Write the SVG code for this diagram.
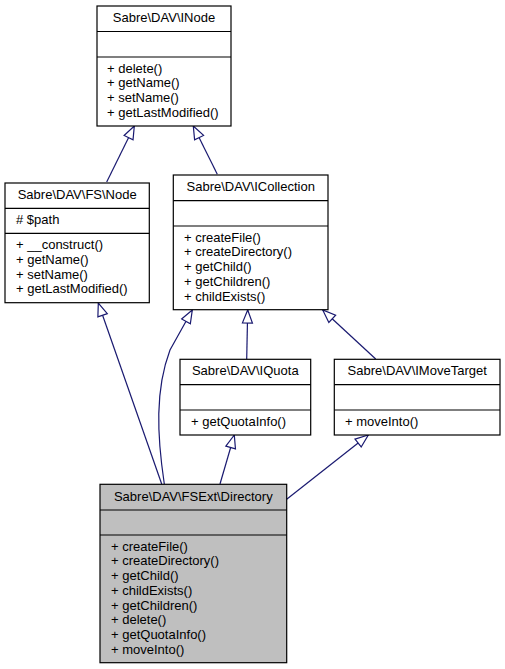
<svg xmlns="http://www.w3.org/2000/svg" width="505" height="669" viewBox="0 0 505 669">
<style>
.box{fill:#ffffff;stroke:#000000;stroke-width:1.2}
.cur{fill:#bfbfbf;stroke:#000000;stroke-width:1.2}
.sep{stroke:#000000;stroke-width:1.2}
text{font-family:"Liberation Sans",Arial,Helvetica,sans-serif;font-size:13px;fill:#000000}
.t{text-anchor:middle}
.e{fill:none;stroke:#191970;stroke-width:1.2;marker-end:url(#inh)}
</style>
<defs>
<marker id="inh" viewBox="-1 -7 16 14" markerWidth="16" markerHeight="14" refX="13" refY="0" orient="auto" markerUnits="userSpaceOnUse">
<path d="M0,-5 L13,0 L0,5 Z" fill="#ffffff" stroke="#191970" stroke-width="1.2"/>
</marker>
</defs>
<g id="edges">
<path class="e" d="M106.7,182 L134.3,126"/>
<path class="e" d="M217.3,174.3 L193.3,126"/>
<path class="e" d="M161.7,484 L98.3,303"/>
<path class="e" d="M164.3,484 C157,435 155,390 170,350 L192.3,310"/>
<path class="e" d="M246.7,359 L247.7,310"/>
<path class="e" d="M375.7,359 L322.7,310"/>
<path class="e" d="M220,484 L234.3,435"/>
<path class="e" d="M286.7,499.3 L368.3,435"/>
</g>
<g id="INode">
<rect class="box" x="97" y="6" width="134" height="120"/>
<line class="sep" x1="97" y1="31.5" x2="231" y2="31.5"/>
<line class="sep" x1="97" y1="57" x2="231" y2="57"/>
<text class="t" x="164" y="21.7">Sabre\DAV\INode</text>
<text x="107" y="72.6">+ delete()</text>
<text x="107" y="87.3">+ getName()</text>
<text x="107" y="102">+ setName()</text>
<text x="107" y="116.7">+ getLastModified()</text>
</g>
<g id="FSNode">
<rect class="box" x="5" y="183" width="144.3" height="119.7"/>
<line class="sep" x1="5" y1="208.3" x2="149.3" y2="208.3"/>
<line class="sep" x1="5" y1="233.3" x2="149.3" y2="233.3"/>
<text class="t" x="77.2" y="199">Sabre\DAV\FS\Node</text>
<text x="16" y="224">#  $path</text>
<text x="16" y="249.3">+  __construct()</text>
<text x="16" y="264">+ getName()</text>
<text x="16" y="278.7">+ setName()</text>
<text x="16" y="293.3">+ getLastModified()</text>
</g>
<g id="ICollection">
<rect class="box" x="173.3" y="175" width="154.7" height="134.7"/>
<line class="sep" x1="173.3" y1="200.7" x2="328" y2="200.7"/>
<line class="sep" x1="173.3" y1="226" x2="328" y2="226"/>
<text class="t" x="250.7" y="191">Sabre\DAV\ICollection</text>
<text x="184" y="241.7">+ createFile()</text>
<text x="184" y="256.4">+ createDirectory()</text>
<text x="184" y="271.1">+ getChild()</text>
<text x="184" y="285.8">+ getChildren()</text>
<text x="184" y="300.5">+ childExists()</text>
</g>
<g id="IQuota">
<rect class="box" x="180" y="359.3" width="130.7" height="75.7"/>
<line class="sep" x1="180" y1="384.7" x2="310.7" y2="384.7"/>
<line class="sep" x1="180" y1="410" x2="310.7" y2="410"/>
<text class="t" x="245.3" y="375.3">Sabre\DAV\IQuota</text>
<text x="191" y="425.7">+ getQuotaInfo()</text>
</g>
<g id="IMoveTarget">
<rect class="box" x="334.3" y="359.3" width="165.7" height="75.7"/>
<line class="sep" x1="334.3" y1="384.7" x2="500" y2="384.7"/>
<line class="sep" x1="334.3" y1="410" x2="500" y2="410"/>
<text class="t" x="417.2" y="375.3">Sabre\DAV\IMoveTarget</text>
<text x="345" y="425.7">+ moveInto()</text>
</g>
<g id="Directory">
<rect class="cur" x="100" y="484.3" width="186.7" height="178.4"/>
<line class="sep" x1="100" y1="510" x2="286.7" y2="510"/>
<line class="sep" x1="100" y1="535" x2="286.7" y2="535"/>
<text class="t" x="193.3" y="501">Sabre\DAV\FSExt\Directory</text>
<text x="111" y="550.7">+ createFile()</text>
<text x="111" y="565.4">+ createDirectory()</text>
<text x="111" y="580.1">+ getChild()</text>
<text x="111" y="594.8">+ childExists()</text>
<text x="111" y="609.5">+ getChildren()</text>
<text x="111" y="624.2">+ delete()</text>
<text x="111" y="638.9">+ getQuotaInfo()</text>
<text x="111" y="653.6">+ moveInto()</text>
</g>
</svg>
